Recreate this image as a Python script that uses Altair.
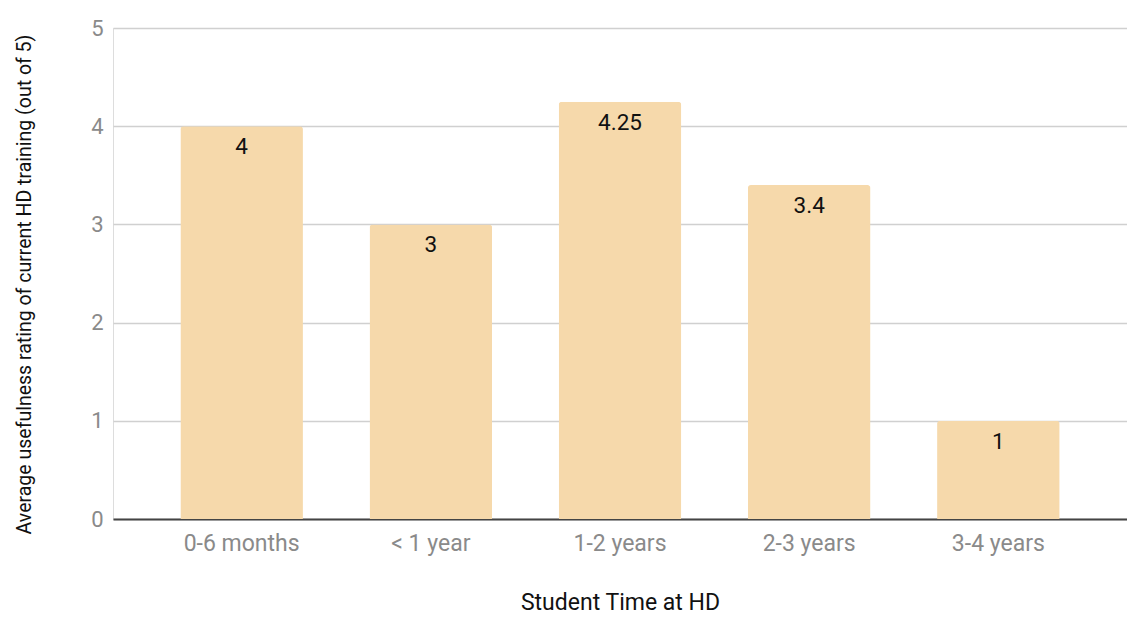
import altair as alt
import pandas as pd

categories = ["0-6 months", "< 1 year", "1-2 years", "2-3 years", "3-4 years"]
ratings = [4, 3, 4.25, 3.4, 1]
labels = ["4", "3", "4.25", "3.4", "1"]

df = pd.DataFrame({"cat": categories, "val": ratings, "lab": labels})

x = alt.X("cat:N", sort=categories,
          scale=alt.Scale(paddingInner=0.352, paddingOuter=0.356),
          axis=alt.Axis(title="Student Time at HD", labelAngle=0, labelFontSize=23,
                        labelColor="#8a8a8a", labelPadding=13, ticks=False,
                        domainColor="#444444", domainWidth=2,
                        titleFontSize=23, titleFontWeight="normal", titleColor="#111111",
                        titlePadding=36, grid=False))
y = alt.Y("val:Q", scale=alt.Scale(domain=[0, 5]),
          axis=alt.Axis(title="Average usefulness rating of current HD training (out of 5)",
                        values=[0, 1, 2, 3, 4, 5], format="d", labelFontSize=22,
                        labelColor="#8a8a8a",
                        labelPadding=10, ticks=False, domain=False,
                        gridColor="#d0d0d0", gridWidth=1.5,
                        titleFontSize=19.5, titleFontWeight="normal", titleColor="#111111",
                        titlePadding=56, titleY=256))

bars = alt.Chart(df).mark_bar(color="#f6d9ab", cornerRadiusTopLeft=3,
                              cornerRadiusTopRight=3).encode(x=x, y=y)
text = alt.Chart(df).mark_text(baseline="top", dy=10, fontSize=22.5, color="#111111",
                               font="Roboto").encode(
    x=alt.X("cat:N", sort=categories), y="val:Q", text="lab:N")

chart = (bars + text).properties(
    width=1014, height=491,
    autosize=alt.AutoSizeParams(type="none"),
    padding={"left": 113, "top": 28, "right": 0, "bottom": 106},
    background="white",
).configure_view(stroke=None).configure(font="Roboto")

chart.save("out.html", embed_options={"renderer": "svg", "actions": False})
